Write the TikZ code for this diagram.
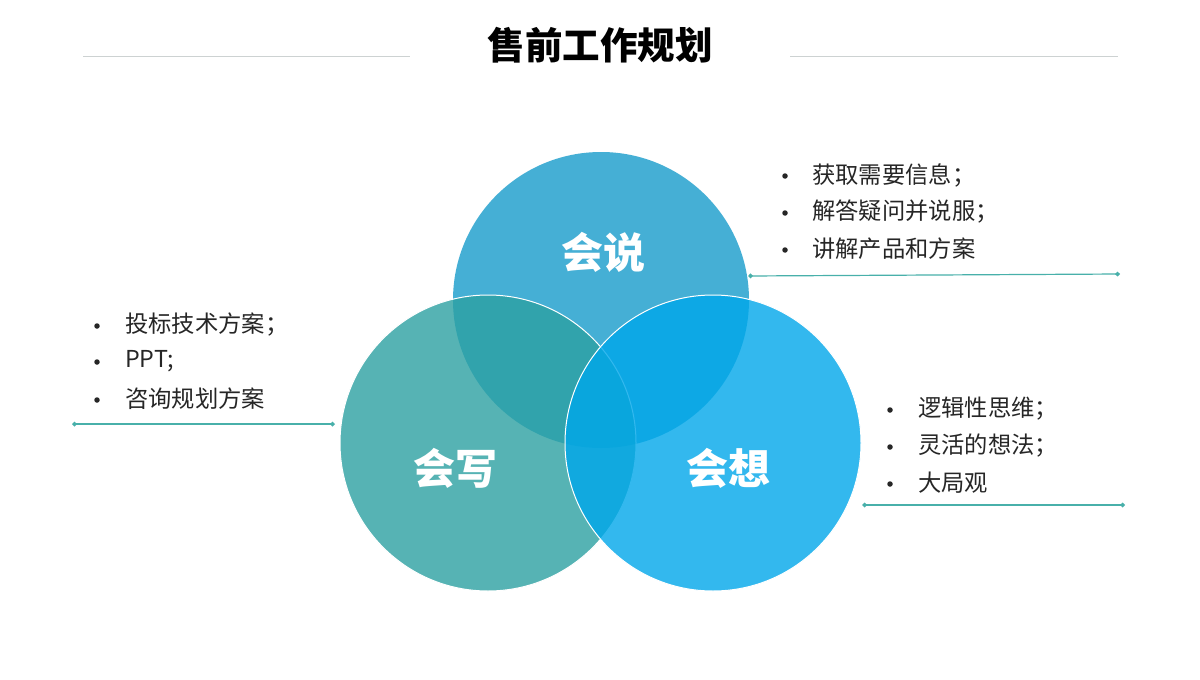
\documentclass[tikz,border=0pt]{standalone}
\usepackage{fontspec}
\setmainfont{Noto Sans CJK SC}
\usetikzlibrary{arrows.meta}
\definecolor{topc}{RGB}{69,175,213}
\definecolor{leftc}{RGB}{44,160,162}
\definecolor{rightc}{RGB}{0,167,234}
\definecolor{linec}{RGB}{72,176,170}
\definecolor{rulec}{RGB}{205,210,210}
\tikzset{
  circ/.style={circle, minimum size=296pt, inner sep=0pt},
  lbl/.style={text=white, font=\fontsize{42}{46}\selectfont\bfseries, inner sep=0pt},
  item/.style={anchor=west, font=\fontsize{23.3}{26}\selectfont, inner sep=0pt, text=black!85},
  bul/.style={circle, fill=black!85, minimum size=5.5pt, inner sep=0pt},
  conn/.style={draw=linec, line width=1.2pt, {Diamond[length=5pt,width=5pt]}-{Diamond[length=5pt,width=5pt]}}
}
\begin{document}
\begin{tikzpicture}[x=1pt,y=-1pt]
\useasboundingbox (0,0) rectangle (1200,680);
\fill[white] (0,0) rectangle (1200,680);
% title
\node[font=\fontsize{37.5}{40}\selectfont\bfseries, inner sep=0pt] (title) at (600,45) {售前工作规划};
\coordinate (tl1) at (83,56); \coordinate (tl2) at (410,56);
\coordinate (tr1) at (790,56); \coordinate (tr2) at (1118,56);
\draw[rulec, line width=0.8pt] (tl1) -- (tl2);
\draw[rulec, line width=0.8pt] (tr1) -- (tr2);
% circles
\node[circ, fill=topc] (ctop) at (601,300) {};
\node[circ, fill=leftc, fill opacity=0.8, draw=white, line width=1pt] (cleft) at (488,443) {};
\node[circ, fill=rightc, fill opacity=0.8, draw=white, line width=1pt] (cright) at (713,443) {};
\node[lbl] (ltop) at (603,252) {会说};
\node[lbl] (lleft) at (455,468) {会写};
\node[lbl] (lright) at (728,468) {会想};
% top-right list
\node[bul] (b1) at (785,176) {}; \node[item] (t1) at (812,175) {获取需要信息；};
\node[bul] (b2) at (785,213) {}; \node[item] (t2) at (812,212) {解答疑问并说服；};
\node[bul] (b3) at (785,250) {}; \node[item] (t3) at (812,249) {讲解产品和方案};
\coordinate (r1a) at (748,276); \coordinate (r1b) at (1120,274);
\draw[conn] (r1a) -- (r1b);
% left list
\node[bul] (b4) at (97,326) {}; \node[item] (t4) at (125,325) {投标技术方案；};
\node[bul] (b5) at (97,362) {}; \node[item] (t5) at (125,361) {PPT;};
\node[bul] (b6) at (97,400) {}; \node[item] (t6) at (125,399) {咨询规划方案};
\coordinate (l1a) at (72,424); \coordinate (l1b) at (335,424);
\draw[conn] (l1a) -- (l1b);
% bottom-right list
\node[bul] (b7) at (890,410) {}; \node[item] (t7) at (918,409) {逻辑性思维；};
\node[bul] (b8) at (890,447) {}; \node[item] (t8) at (918,446) {灵活的想法；};
\node[bul] (b9) at (890,484) {}; \node[item] (t9) at (918,483) {大局观};
\coordinate (r2a) at (862,505); \coordinate (r2b) at (1125,505);
\draw[conn] (r2a) -- (r2b);
\end{tikzpicture}
\end{document}
